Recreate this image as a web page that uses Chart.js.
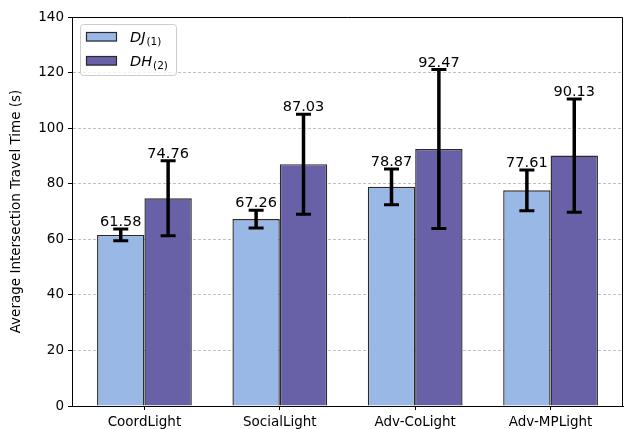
<!DOCTYPE html>
<html>
<head>
<meta charset="utf-8">
<script src="https://cdn.jsdelivr.net/npm/chart.js@4"></script>
<style>
  body { margin: 0; background: #fff; }
  canvas { display: block; }
</style>
</head>
<body>
<canvas id="chart" width="624" height="429"></canvas>
<script>
// chart values
var categories = ['CoordLight', 'SocialLight', 'Adv-CoLight', 'Adv-MPLight'];
var djMeans = [61.58, 67.26, 78.87, 77.61];
var dhMeans = [74.76, 87.03, 92.47, 90.13];
var djErrors = [2.1, 3.2, 6.4, 7.3];
var dhErrors = [13.5, 18.0, 28.6, 20.4];
var yTicks = [0, 20, 40, 60, 80, 100, 120, 140];

var FONT = "'DejaVu Sans', 'Liberation Sans', sans-serif";

var toPoints = function (values) {
  return values.map(function (v, i) { return {x: i, y: v}; });
};

var errorBars = {
  id: 'errorBars',
  afterDatasetsDraw: function (chart) {
    var ctx = chart.ctx;
    var yScale = chart.scales.y;
    var errs = [djErrors, dhErrors];
    ctx.save();
    chart.data.datasets.forEach(function (ds, d) {
      var meta = chart.getDatasetMeta(d);
      meta.data.forEach(function (bar, i) {
        var v = ds.data[i].y;
        var e = errs[d][i];
        var top = yScale.getPixelForValue(v + e);
        var bottom = yScale.getPixelForValue(v - e);
        ctx.strokeStyle = '#000';
        ctx.lineWidth = 3.5;
        ctx.beginPath();
        ctx.moveTo(bar.x, top);
        ctx.lineTo(bar.x, bottom);
        ctx.stroke();
        ctx.lineWidth = 3;
        ctx.beginPath();
        ctx.moveTo(bar.x - 7.5, top);
        ctx.lineTo(bar.x + 7.5, top);
        ctx.moveTo(bar.x - 7.5, bottom);
        ctx.lineTo(bar.x + 7.5, bottom);
        ctx.stroke();
        // value label above the cap
        ctx.fillStyle = '#000';
        ctx.font = '14.5px ' + FONT;
        ctx.textAlign = 'center';
        ctx.textBaseline = 'alphabetic';
        ctx.fillText(v.toFixed(2), bar.x, top - 3);
      });
    });
    ctx.restore();
  }
};

var frameAndLegend = {
  id: 'frameAndLegend',
  afterDraw: function (chart) {
    var ctx = chart.ctx;
    var a = chart.chartArea;
    ctx.save();
    ctx.strokeStyle = '#000';
    ctx.lineWidth = 1;
    ctx.beginPath();
    ctx.moveTo(a.left, a.top + 0.5);
    ctx.lineTo(a.right - 0.5, a.top + 0.5);
    ctx.lineTo(a.right - 0.5, a.bottom);
    ctx.stroke();

    // legend box
    var bx = 80.5, by = 24.5, bw = 96, bh = 51, r = 3;
    ctx.beginPath();
    ctx.moveTo(bx + r, by);
    ctx.arcTo(bx + bw, by, bx + bw, by + bh, r);
    ctx.arcTo(bx + bw, by + bh, bx, by + bh, r);
    ctx.arcTo(bx, by + bh, bx, by, r);
    ctx.arcTo(bx, by, bx + bw, by, r);
    ctx.closePath();
    ctx.fillStyle = 'rgba(255,255,255,0.8)';
    ctx.fill();
    ctx.strokeStyle = '#cccccc';
    ctx.stroke();

    var items = [
      {main: 'DJ', sub: '(1)', ds: 0, y: 32},
      {main: 'DH', sub: '(2)', ds: 1, y: 56}
    ];
    items.forEach(function (it) {
      var ds = chart.data.datasets[it.ds];
      ctx.fillStyle = ds.backgroundColor;
      ctx.fillRect(86, it.y, 31, 9.5);
      ctx.strokeStyle = ds.borderColor;
      ctx.lineWidth = 1.2;
      ctx.strokeRect(86.5, it.y + 0.5, 30, 8.5);
      ctx.fillStyle = '#000';
      ctx.textAlign = 'left';
      ctx.textBaseline = 'alphabetic';
      ctx.font = 'italic 14.5px ' + FONT;
      ctx.fillText(it.main, 130, it.y + 9.5);
      var w = ctx.measureText(it.main).width;
      ctx.font = '10.5px ' + FONT;
      ctx.fillText(it.sub, 130 + w + 1, it.y + 12.5);
    });
    ctx.restore();
  }
};

new Chart(document.getElementById('chart'), {
  type: 'bar',
  data: {
    datasets: [
      {
        label: 'DJ(1)',
        data: toPoints(djMeans),
        backgroundColor: '#9ab8e6',
        borderColor: '#2a2a2a',
        borderWidth: 1.4,
        inflateAmount: 0,
        categoryPercentage: 0.7,
        barPercentage: 1
      },
      {
        label: 'DH(2)',
        data: toPoints(dhMeans),
        backgroundColor: '#6861a8',
        borderColor: '#2a2a2a',
        borderWidth: 1.4,
        inflateAmount: 0,
        categoryPercentage: 0.7,
        barPercentage: 1
      }
    ]
  },
  options: {
    responsive: false,
    animation: false,
    layout: {padding: {top: 17, right: 1, left: 0, bottom: 0}},
    plugins: {legend: {display: false}, tooltip: {enabled: false}},
    scales: {
      x: {
        type: 'linear',
        min: -0.535,
        max: 3.535,
        offset: false,
        afterBuildTicks: function (scale) {
          scale.ticks = categories.map(function (c, i) { return {value: i}; });
        },
        afterFit: function (scale) { scale.height = 23; },
        ticks: {
          color: '#000',
          font: {family: FONT, size: 13.5},
          padding: 4,
          maxRotation: 0,
          autoSkip: false,
          callback: function (v) { return categories[v]; }
        },
        grid: {
          drawOnChartArea: false,
          drawTicks: true,
          tickLength: 4,
          tickColor: '#000',
          offset: false
        },
        border: {display: true, color: '#000', width: 1}
      },
      y: {
        min: 0,
        max: 140,
        afterBuildTicks: function (scale) {
          scale.ticks = yTicks.map(function (v) { return {value: v}; });
        },
        afterFit: function (scale) { scale.width = 72; },
        title: {
          display: true,
          text: 'Average Intersection Travel Time (s)',
          color: '#000',
          font: {family: FONT, size: 13.5},
          padding: {top: 8, bottom: 0}
        },
        ticks: {
          color: '#000',
          font: {family: FONT, size: 13.5},
          padding: 4
        },
        grid: {
          color: function (c) {
            return (c.tick && (c.tick.value === 0 || c.tick.value === 140)) ? 'rgba(0,0,0,0)' : '#b0b0b0';
          },
          lineWidth: 0.8,
          tickLength: 4,
          tickColor: '#000',
          tickWidth: 1,
          tickBorderDash: []
        },
        border: {display: true, color: '#000', width: 1, dash: [3, 2]}
      }
    }
  },
  plugins: [errorBars, frameAndLegend]
});
</script>
</body>
</html>
